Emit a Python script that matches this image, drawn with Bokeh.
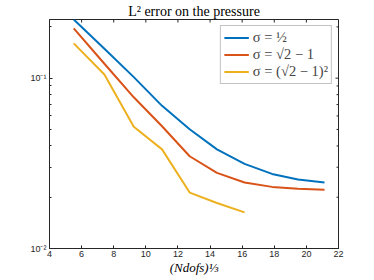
import math
from bokeh.plotting import figure
from bokeh.models import Range1d, FixedTicker, Legend, LegendItem
from bokeh.embed import file_html
from bokeh.resources import INLINE

# (Ndofs)^(1/3)
x_full = [5.51, 7.42, 9.25, 11.01, 12.73, 14.43, 16.15, 17.86, 19.48, 21.13]
x_short = [5.51, 7.42, 9.25, 11.01, 12.73, 14.43, 16.15]

err_half = [0.221, 0.149, 0.1014, 0.0688, 0.0501, 0.0382, 0.0314, 0.0274, 0.0254, 0.0244]
err_sqrt2m1 = [0.196, 0.1215, 0.0772, 0.0522, 0.0348, 0.0278, 0.0244, 0.0230, 0.0224, 0.0221]
err_sqrt2m1_sq = [0.160, 0.105, 0.0518, 0.0382, 0.0213, 0.0185, 0.0163]

labels = ["σ = ½", "σ = √2 − 1", "σ = (√2 − 1)²"]
colors = ["#0072BD", "#D95319", "#EDB120"]

x_ticks = [4, 6, 8, 10, 12, 14, 16, 18, 20, 22]
y_ticks = [0.01, 0.1]
y_minor = [0.02, 0.03, 0.04, 0.05, 0.06, 0.07, 0.08, 0.09, 0.2]
y_tick_labels = {0.01: "10⁻²", 0.1: "10⁻¹"}

X0, X1 = 4, 22
Y0, Y1 = 0.01, 0.221

AX = "#262626"
SANS = "Liberation Sans"
SERIF = "Liberation Serif"

p = figure(width=358, height=278, y_axis_type="log",
           x_range=Range1d(X0, X1), y_range=Range1d(Y0, Y1),
           output_backend="svg", toolbar_location=None,
           min_border_left=49, min_border_right=20,
           min_border_top=4, min_border_bottom=30)

p.title.text = "L² error on the pressure"
p.title.align = "center"
p.title.text_font = SERIF
p.title.text_font_size = "14px"
p.title.text_font_style = "normal"
p.title.text_color = "black"
p.title.standoff = 2

p.xgrid.visible = False
p.ygrid.visible = False
p.outline_line_color = AX
p.outline_line_width = 1
p.outline_line_alpha = 1

for ax in (p.xaxis[0], p.yaxis[0]):
    ax.axis_line_color = AX
    ax.major_tick_line_color = AX
    ax.minor_tick_line_color = AX
    ax.major_tick_in = 3
    ax.major_tick_out = 0
    ax.minor_tick_in = 2
    ax.minor_tick_out = 0
    ax.major_label_text_font = SANS
    ax.major_label_text_font_size = "9px"
    ax.major_label_text_color = AX
    ax.major_label_standoff = 3

p.xaxis.major_label_standoff = 2
p.xaxis.ticker = FixedTicker(ticks=x_ticks)
p.yaxis.ticker = FixedTicker(ticks=y_ticks, minor_ticks=y_minor)
p.yaxis.major_label_overrides = y_tick_labels
p.xaxis.minor_tick_line_color = None
p.xaxis.axis_label = "(Ndofs)⅓"
p.xaxis.axis_label_text_font = SERIF
p.xaxis.axis_label_text_font_style = "italic"
p.xaxis.axis_label_text_font_size = "13px"
p.xaxis.axis_label_text_color = "black"
p.xaxis.axis_label_standoff = 0

# mirrored ticks on top and right edges (clipped to the frame -> inward ticks)
p.scatter(x_ticks, [Y1] * len(x_ticks), marker="dash", angle=math.pi / 2,
          size=6, line_color=AX, line_width=1)
p.scatter([X1] * len(y_ticks), y_ticks, marker="dash", size=6,
          line_color=AX, line_width=1)
p.scatter([X1] * len(y_minor), y_minor, marker="dash", size=4,
          line_color=AX, line_width=1)

r1 = p.line(x_full, err_half, line_color=colors[0], line_width=2)
r2 = p.line(x_full, err_sqrt2m1, line_color=colors[1], line_width=2)
r3 = p.line(x_short, err_sqrt2m1_sq, line_color=colors[2], line_width=2)

legend = Legend(items=[LegendItem(label=labels[0], renderers=[r1]),
                       LegendItem(label=labels[1], renderers=[r2]),
                       LegendItem(label=labels[2], renderers=[r3])],
                location="top_right")
legend.margin = 6
legend.padding = 3
legend.spacing = 0
legend.label_text_font = SERIF
legend.label_text_font_size = "14.5px"
legend.label_standoff = 4
legend.glyph_width = 25
legend.glyph_height = 17
legend.label_height = 17
legend.border_line_color = "#888888"
legend.border_line_width = 1
legend.background_fill_alpha = 1
p.add_layout(legend, "center")

open("out.html", "w").write(file_html(p, INLINE))
